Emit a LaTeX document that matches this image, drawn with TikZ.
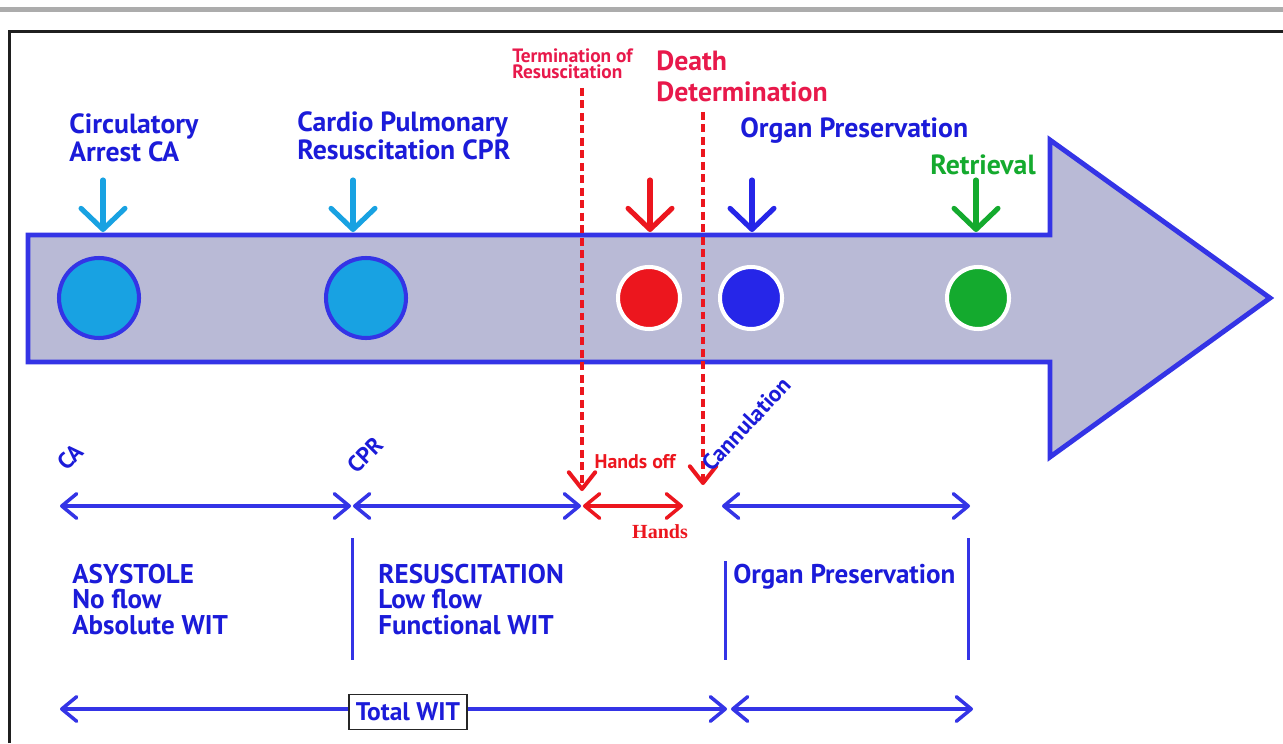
\documentclass[tikz,border=0pt]{standalone}
\usepackage{fontspec}
\setmainfont{PT Sans}
\newfontfamily\serifbold{Liberation Serif}
\usetikzlibrary{arrows.meta,calc}
\definecolor{txtblue}{RGB}{27,27,217}
\definecolor{lnblue}{RGB}{52,52,230}
\definecolor{arrowfill}{RGB}{185,186,214}
\definecolor{skyblue}{RGB}{24,162,226}
\definecolor{crimson}{RGB}{232,25,75}
\definecolor{pured}{RGB}{236,22,30}
\definecolor{dotblue}{RGB}{38,38,232}
\definecolor{dotgreen}{RGB}{20,170,46}
\definecolor{framegrey}{RGB}{172,172,172}
\tikzset{
  lbl/.style={inner sep=0pt, align=left, font=\bfseries\fontsize{15.8}{16.5}\selectfont},
  smalllbl/.style={inner sep=0pt, align=left, font=\bfseries\fontsize{11}{9.6}\selectfont},
  bodylbl/.style={inner sep=0pt, align=left, text=txtblue, font=\bfseries\fontsize{15.4}{14.3}\selectfont},
  downarrow/.style={line width=2.9pt, line cap=round,
    -{Straight Barb[length=12pt,width=25pt,line cap=round,line join=round]}},
  span/.style={line width=2pt, lnblue, line cap=round,
    {Straight Barb[length=8.5pt,width=14pt,line cap=round,line join=round]}-{Straight Barb[length=8.5pt,width=14pt,line cap=round,line join=round]}},
  divider/.style={line width=1.7pt, lnblue},
  reddash/.style={line width=2.3pt, pured, dash pattern=on 4.5pt off 2.6pt,
    -{Straight Barb[length=9.5pt,width=15pt,line cap=round,line join=round]}},
  bigdot/.style={circle, minimum size=80*0.02cm, inner sep=0pt, fill=skyblue, draw=lnblue, line width=2.3pt},
  smalldot/.style={circle, minimum size=62*0.02cm, inner sep=0pt, draw=white, line width=2.3pt},
}
\begin{document}
\begin{tikzpicture}[x=0.02cm, y=-0.02cm]
\useasboundingbox (0,0) rectangle (1283,743);
\fill[white] (0,0) rectangle (1283,743);

% page rules
\fill[framegrey] (0,7) rectangle (1283,12.5);
\draw[line width=1.7pt, black!88] (9.5,743) -- (9.5,31.5) -- (1283,31.5);

% timeline arrow
\draw[line width=2.8pt, lnblue, fill=arrowfill, line join=miter]
  (28,235) -- (1050,235) -- (1050,140) -- (1270,298) -- (1050,457) -- (1050,362) -- (28,362) -- cycle;

% event dots
\node[bigdot] (dCA)  at (99,298) {};
\node[bigdot] (dCPR) at (366,298) {};
\node[smalldot, fill=pured]    (dDD) at (649,298) {};
\node[smalldot, fill=dotblue]  (dOP) at (751,298) {};
\node[smalldot, fill=dotgreen] (dRT) at (978,298) {};

% event labels (anchored at the baseline of their last line)
\node[lbl, text=txtblue, anchor=base west] (tCA)  at (69,162) {Circulatory\\Arrest CA};
\node[lbl, text=txtblue, anchor=base west] (tCPR) at (297,160) {Cardio Pulmonary\\Resuscitation CPR};
\node[lbl, text=txtblue, anchor=base west] (tOP) at (740,138) {Organ Preservation};
\node[lbl, text=dotgreen, anchor=base west] (tRT) at (930,174) {Retrieval};
\node[lbl, text=crimson, anchor=base west, font=\bfseries\fontsize{15.8}{18}\selectfont] (tDD) at (656,102) {Death\\Determination};
\node[smalllbl, text=crimson, anchor=base west] (tTR) at (512,79) {Termination of\\Resuscitation};

% down arrows
\coordinate (aCA) at (103,180);  \coordinate (bCA) at (103,232);
\coordinate (aCPR) at (353,180); \coordinate (bCPR) at (353,232);
\coordinate (aDD) at (650,180);  \coordinate (bDD) at (650,232);
\coordinate (aOP) at (752,180);  \coordinate (bOP) at (752,232);
\coordinate (aRT) at (976,180);  \coordinate (bRT) at (976,232);
\draw[downarrow, skyblue]  (aCA) -- (bCA);
\draw[downarrow, skyblue]  (aCPR) -- (bCPR);
\draw[downarrow, pured]    (aDD) -- (bDD);
\draw[downarrow, dotblue]  (aOP) -- (bOP);
\draw[downarrow, dotgreen] (aRT) -- (bRT);

% phase boundaries on the lower axis
\coordinate (pCA) at (60,506);
\coordinate (pCPR) at (351,506);
\coordinate (pTR) at (581,506);
\coordinate (pHO) at (683,506);
\coordinate (pCN) at (722,506);
\coordinate (pEnd) at (970,506);

% termination / death determination markers
\coordinate (rTR) at (582,88);  \coordinate (rTRe) at (582,491);
\coordinate (rDD) at (703,112); \coordinate (rDDe) at (703,485);
\draw[reddash] (rTR) -- (rTRe);
\draw[reddash] (rDD) -- (rDDe);

% interval arrows
\draw[span] (pCA) -- (pCPR);
\draw[span] ($(pCPR)+(2,0)$) -- (pTR);
\draw[span, pured] ($(pTR)+(2,0)$) -- (pHO);
\draw[span] (pCN) -- (pEnd);

% axis labels
\node[inner sep=0pt, text=txtblue, rotate=45, font=\bfseries\fontsize{13}{14}\selectfont] (lCA) at (70,457) {CA};
\node[inner sep=0pt, text=txtblue, rotate=45, font=\bfseries\fontsize{13}{14}\selectfont] (lCPR) at (365,455) {CPR};
\node[inner sep=0pt, text=txtblue, rotate=47, font=\bfseries\fontsize{13}{14}\selectfont] (lCN) at (746,424) {Cannulation};
\node[inner sep=0pt, text=pured, font=\bfseries\fontsize{11.3}{12}\selectfont] (lHO) at (635,462) {Hands off};
\node[inner sep=0pt, text=pured, font=\serifbold\bfseries\fontsize{11.4}{12}\selectfont] (lH) at (660,532) {Hands};

% phase dividers
\coordinate (v1a) at (352,538); \coordinate (v1b) at (352,660);
\coordinate (v2a) at (725,561); \coordinate (v2b) at (725,660);
\coordinate (v3a) at (968,538); \coordinate (v3b) at (968,660);
\draw[divider] (v1a) -- (v1b);
\draw[divider] (v2a) -- (v2b);
\draw[divider] (v3a) -- (v3b);

% phase descriptions
\node[bodylbl, anchor=base west] (pAS) at (72,634) {ASYSTOLE\\No flow\\Absolute WIT};
\node[bodylbl, anchor=base west] (pRS) at (378,634) {RESUSCITATION\\Low flow\\Functional WIT};
\node[bodylbl, anchor=base west] (pOP) at (733,583) {Organ Preservation};

% warm ischaemia totals
\coordinate (wA) at (60,709);
\coordinate (wB) at (727,709);
\coordinate (wC) at (731,709);
\coordinate (wD) at (973,709);
\draw[span] (wA) -- (wB);
\draw[span] (wC) -- (wD);
\node[draw=black!85, line width=1pt, fill=white, text=txtblue, inner sep=0pt,
      minimum width=118*0.02cm, minimum height=35*0.02cm,
      font=\bfseries\fontsize{14.5}{15}\selectfont] (tot) at (408,712) {Total WIT};
\end{tikzpicture}
\end{document}
